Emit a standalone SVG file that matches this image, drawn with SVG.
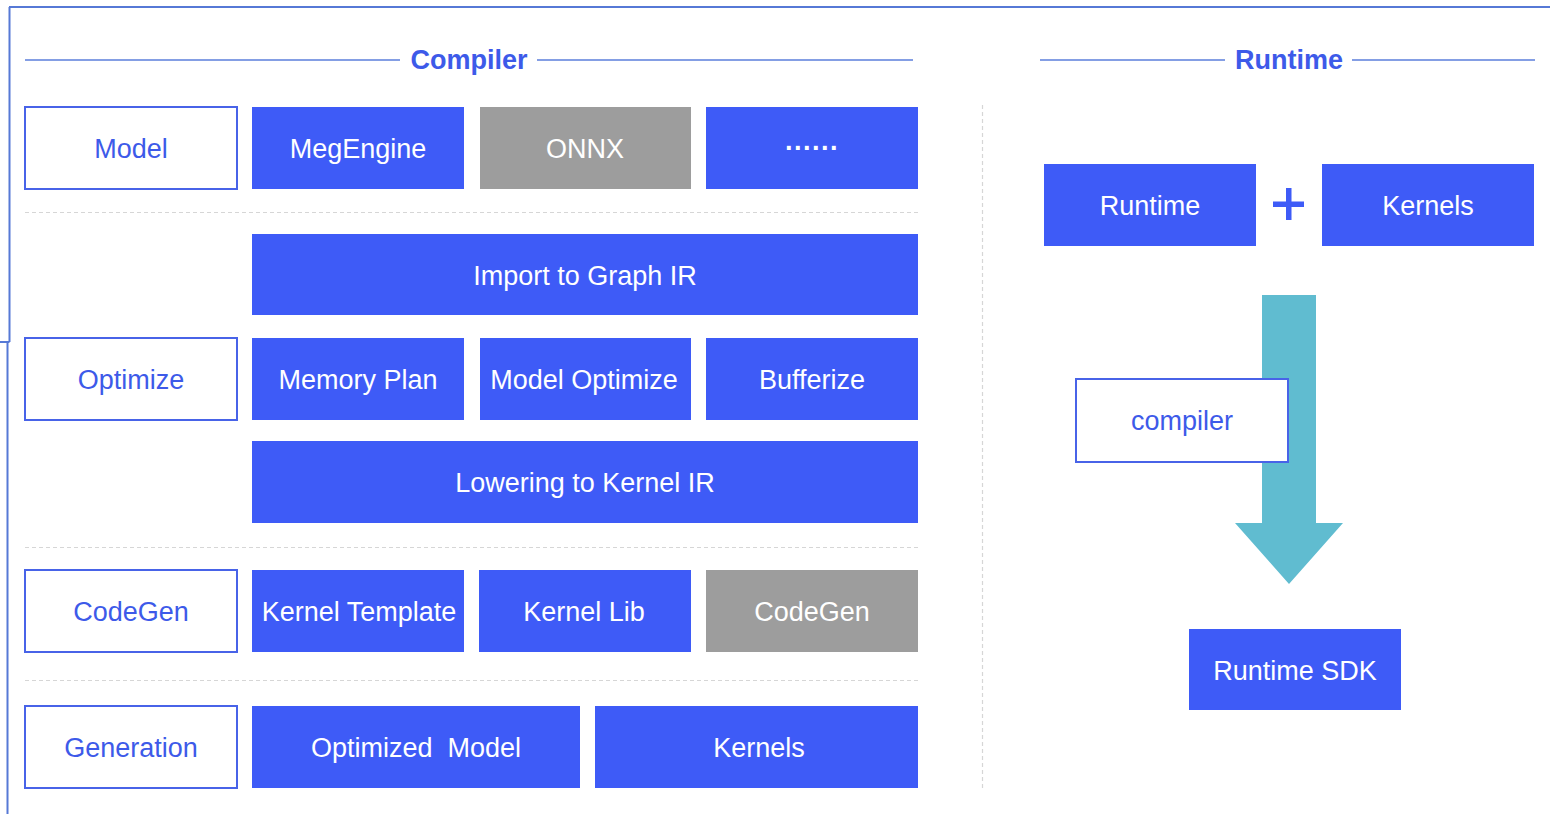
<svg xmlns="http://www.w3.org/2000/svg" width="1550" height="814" viewBox="0 0 1550 814">
<style>
  .fill { fill: #3e5bf7; }
  .gray { fill: #9d9d9d; }
  .outline { fill: #ffffff; stroke: #4863e8; stroke-width: 2; }
  .wt { font-family: "Liberation Sans", Arial, sans-serif; font-size: 27px; fill: #ffffff; text-anchor: middle; }
  .bt { font-family: "Liberation Sans", Arial, sans-serif; font-size: 27px; fill: #3d5ae9; text-anchor: middle; }
  .hd { font-family: "Liberation Sans", Arial, sans-serif; font-size: 27px; font-weight: bold; fill: #3d5ae9; text-anchor: middle; }
  .hline { stroke: #5b7edb; stroke-width: 1.5; fill: none; }
  .frame { stroke: #5679d6; stroke-width: 2; fill: none; }
  .dash { stroke: #d6d6d6; stroke-width: 1.2; stroke-dasharray: 4 3; fill: none; }
</style>
<rect x="0" y="0" width="1550" height="814" fill="#ffffff"/>
<g id="frame">
  <line class="frame" x1="9" y1="7" x2="1550" y2="7"/>
  <line class="frame" x1="9.5" y1="7" x2="9.5" y2="342"/>
  <line class="frame" x1="0" y1="342" x2="9.5" y2="342"/>
  <line class="frame" x1="7.5" y1="342" x2="7.5" y2="814"/>
</g>
<g id="headers">
  <line class="hline" x1="25" y1="60" x2="400" y2="60"/>
  <line class="hline" x1="537" y1="60" x2="913" y2="60"/>
  <text class="hd" x="469" y="69">Compiler</text>
  <line class="hline" x1="1040" y1="60" x2="1225" y2="60"/>
  <line class="hline" x1="1352" y1="60" x2="1535" y2="60"/>
  <text class="hd" x="1289" y="69">Runtime</text>
</g>
<g id="separators">
  <line class="dash" x1="25" y1="212.5" x2="918" y2="212.5"/>
  <line class="dash" x1="25" y1="547.5" x2="918" y2="547.5"/>
  <line class="dash" x1="25" y1="680.5" x2="918" y2="680.5"/>
  <line class="dash" x1="982.5" y1="105" x2="982.5" y2="790"/>
</g>
<g id="model-label"><rect class="outline" x="25" y="107" width="212" height="82"/><text class="bt" x="131" y="157.5">Model</text></g>
<g id="megengine"><rect class="fill" x="252" y="107" width="212" height="82"/><text class="wt" x="358" y="157.5">MegEngine</text></g>
<g id="onnx"><rect class="gray" x="480" y="107" width="211" height="82"/><text class="wt" x="585" y="157.5">ONNX</text></g>
<g id="more"><rect class="fill" x="706" y="107" width="212" height="82"/><text class="wt" x="812" y="157" font-weight="bold">······</text></g>
<g id="import"><rect class="fill" x="252" y="234" width="666" height="81"/><text class="wt" x="585" y="284.5">Import to Graph IR</text></g>
<g id="optimize-label"><rect class="outline" x="25" y="338" width="212" height="82"/><text class="bt" x="131" y="388.5">Optimize</text></g>
<g id="memory-plan"><rect class="fill" x="252" y="338" width="212" height="82"/><text class="wt" x="358" y="388.5">Memory Plan</text></g>
<g id="model-optimize"><rect class="fill" x="480" y="338" width="211" height="82"/><text class="wt" x="584" y="388.5">Model Optimize</text></g>
<g id="bufferize"><rect class="fill" x="706" y="338" width="212" height="82"/><text class="wt" x="812" y="388.5">Bufferize</text></g>
<g id="lowering"><rect class="fill" x="252" y="441" width="666" height="82"/><text class="wt" x="585" y="491.5">Lowering to Kernel IR</text></g>
<g id="codegen-label"><rect class="outline" x="25" y="570" width="212" height="82"/><text class="bt" x="131" y="620.5">CodeGen</text></g>
<g id="kernel-template"><rect class="fill" x="252" y="570" width="212" height="82"/><text class="wt" x="359" y="620.5">Kernel Template</text></g>
<g id="kernel-lib"><rect class="fill" x="479" y="570" width="212" height="82"/><text class="wt" x="584" y="620.5">Kernel Lib</text></g>
<g id="codegen"><rect class="gray" x="706" y="570" width="212" height="82"/><text class="wt" x="812" y="620.5">CodeGen</text></g>
<g id="generation-label"><rect class="outline" x="25" y="706" width="212" height="82"/><text class="bt" x="131" y="756.5">Generation</text></g>
<g id="optimized-model"><rect class="fill" x="252" y="706" width="328" height="82"/><text class="wt" x="416" y="756.5">Optimized&#160; Model</text></g>
<g id="kernels-gen"><rect class="fill" x="595" y="706" width="323" height="82"/><text class="wt" x="759" y="756.5">Kernels</text></g>
<g id="runtime"><rect class="fill" x="1044" y="164" width="212" height="82"/><text class="wt" x="1150" y="214.5">Runtime</text></g>
<g id="plus"><rect class="fill" x="1273" y="201.5" width="31" height="5.5"/><rect class="fill" x="1286" y="188" width="5.5" height="32"/></g>
<g id="kernels-rt"><rect class="fill" x="1322" y="164" width="212" height="82"/><text class="wt" x="1428" y="214.5">Kernels</text></g>
<g id="connectors">
  <polygon fill="#60bcd0" points="1262,295 1316,295 1316,523 1343,523 1289,584 1235,523 1262,523"/>
</g>
<g id="compiler"><rect class="outline" x="1076" y="379" width="212" height="83"/><text class="bt" x="1182" y="429.5">compiler</text></g>
<g id="runtime-sdk"><rect class="fill" x="1189" y="629" width="212" height="81"/><text class="wt" x="1295" y="679.5">Runtime SDK</text></g>
</svg>
